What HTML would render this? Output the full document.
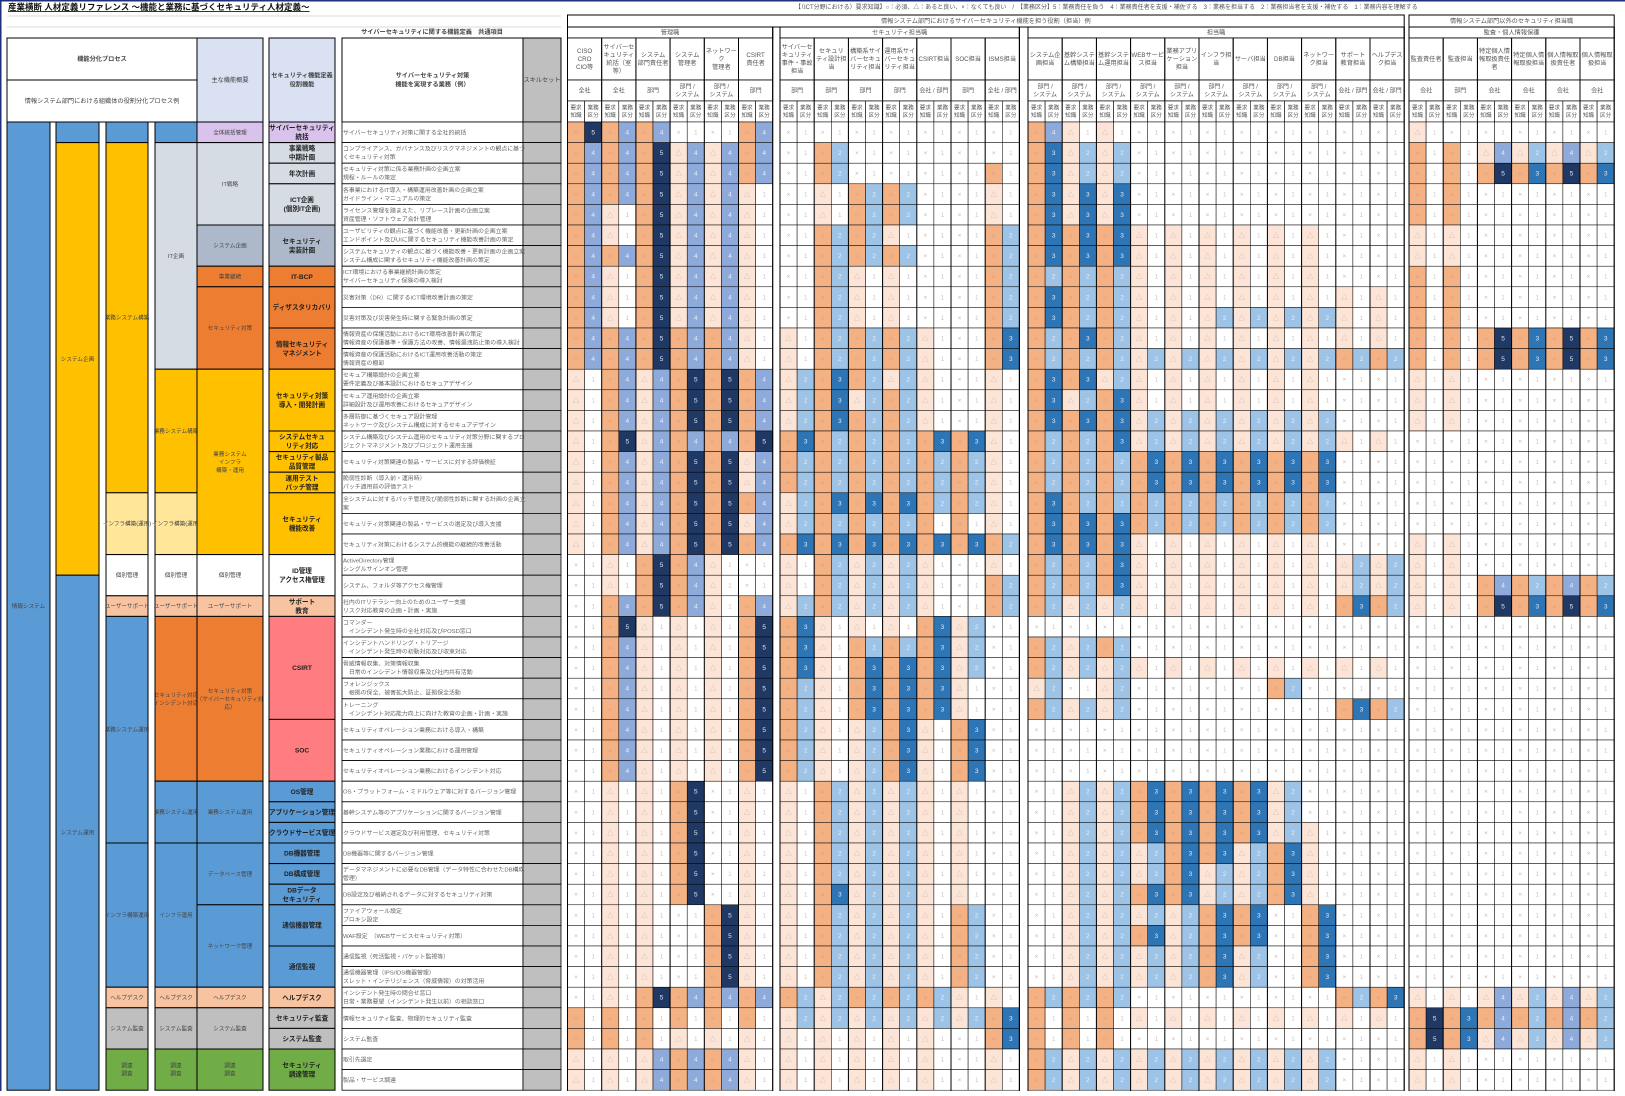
<!DOCTYPE html>
<html><head><meta charset="utf-8">
<style>
html,body{margin:0;padding:0;background:#fff;}
body{width:1625px;height:1091px;overflow:hidden;font-family:"Liberation Sans","Noto Sans CJK JP",sans-serif;}
svg text{font-family:"Liberation Sans","Noto Sans CJK JP",sans-serif;}
</style></head>
<body>
<svg id="sheet" width="1625" height="1091" viewBox="0 0 1625 1091" xmlns="http://www.w3.org/2000/svg">
<rect x="0" y="0" width="1625" height="1091" fill="#fff"/>
<rect x="0" y="0" width="1625" height="1.5" fill="#1f2f7a"/>
<rect x="0" y="0" width="1.5" height="1091" fill="#1f2f7a"/>
<text x="8" y="10" font-size="8.5" font-weight="bold" text-decoration="underline" fill="#111">産業横断 人材定義リファレンス ～機能と業務に基づくセキュリティ人材定義～</text>
<text x="795" y="9" font-size="6" fill="#555">【（ICT分野における）要求知識】○：必須、△：あると良い、×：なくても良い　/　【業務区分】5：業務責任を負う　4：業務責任者を支援・補佐する　3：業務を担当する　2：業務担当者を支援・補佐する　1：業務内容を理解する</text>
<g id="left"></g>
<g id="grid"></g>
</svg>
<script>
// ===== chart data =====
const roleNames = [
 "CISO|CRO|CIO等","サイバーセ|キュリティ|統括（室|等）","システム|部門責任者","システム|管理者","ネットワー|ク|管理者","CSIRT|責任者",
 "サイバーセ|キュリティ|事件・事故|担当","セキュリ|ティ設計担|当","構築系サイ|バーセキュ|リティ担当","運用系サイ|バーセキュ|リティ担当","CSIRT担当","SOC担当","ISMS担当",
 "システム企|画担当","基幹システ|ム構築担当","基幹システ|ム運用担当","WEBサービ|ス担当","業務アプリ|ケーション|担当","インフラ担|当","サーバ担当","DB担当","ネットワー|ク担当","サポート|教育担当","ヘルプデス|ク担当",
 "監査責任者","監査担当","特定個人情|報取扱責任|者","特定個人情|報取扱担当","個人情報取|扱責任者","個人情報取|扱担当"
];
const roleScopes = [
 "全社","全社","部門","部門 /|システム","部門 /|システム","部門",
 "部門","部門","部門","部門","会社 / 部門","部門","全社 / 部門",
 "部門 /|システム","部門 /|システム","部門 /|システム","部門 /|システム","部門 /|システム","部門 /|システム","部門 /|システム","部門 /|システム","部門 /|システム","会社 / 部門","会社 / 部門",
 "会社","部門","会社","会社","会社","会社"
];
const groupNames = ["管理職","セキュリティ担当職","担当職","監査・個人情報保護"];
const groupSizes = [6,7,11,6];
// each row: 30 tokens "<knowledge><level>" knowledge: o=○ t=△ x=×
const rowValues = [
"o5 o4 o4 x1 x1 o4 x1 x1 x1 x1 x1 x1 x1 o4 t1 t1 x1 x1 x1 x1 x1 x1 x1 x1 t1 x1 x1 x1 x1 x1",
"o4 o4 o5 t4 t4 o4 x1 o2 x1 x1 x1 x1 x1 o3 t2 t2 x1 x1 x1 x1 x1 x1 x1 x1 o1 o1 t4 t2 t4 t2",
"o4 o4 o5 t4 t4 o4 x1 o2 x1 x1 x1 x1 o1 o3 t2 t2 x1 x1 x1 x1 x1 x1 x1 x1 o1 o1 o5 o3 o5 o3",
"o4 o4 o5 t4 t4 t1 x1 t1 o2 o2 x1 x1 t1 o3 t3 t3 x1 x1 x1 x1 x1 x1 x1 x1 o1 o1 x1 x1 x1 x1",
"o4 t1 o5 t4 t4 t1 x1 t1 o2 o2 x1 x1 t1 o3 t3 t3 x1 x1 x1 x1 x1 x1 x1 x1 o1 o1 x1 x1 x1 x1",
"o4 t1 o5 t4 t4 t1 x1 o2 o2 t1 x1 x1 o2 o3 o3 o3 t1 t1 t1 t1 t1 t1 x1 x1 t1 t1 x1 x1 x1 x1",
"o4 o4 o5 t4 t4 t1 x1 o2 o2 o2 x1 x1 o2 o3 o3 o3 t1 t1 t1 t1 t1 t1 x1 x1 t1 t1 x1 x1 x1 x1",
"o4 t1 o5 t4 t4 t1 x1 o2 t1 t1 x1 x1 o2 o2 o2 o2 t1 t1 t1 t1 t1 t1 x1 x1 o1 o1 x1 x1 x1 x1",
"o4 t1 o5 t4 t4 t1 x1 o2 t1 t1 x1 x1 o2 o3 o2 o2 t1 t1 t1 t1 t1 t1 t1 t1 o1 o1 x1 x1 x1 x1",
"o4 t1 o5 t4 t4 t1 x1 o2 t1 t1 x1 x1 o2 o3 o2 o2 t1 t1 t2 t2 t2 t2 t1 t1 o1 o1 x1 x1 x1 x1",
"o4 o4 o5 o4 o4 t1 t1 o2 o2 o2 t1 x1 o3 o2 o3 o2 t1 t1 t1 t1 t1 t1 t1 t1 o1 o1 o5 o3 o5 o3",
"o4 o4 o5 o4 o4 t1 t1 o2 o2 o2 t1 x1 o3 o2 o2 o2 t2 t2 t2 t2 t2 t2 o2 o2 o1 o1 o5 o3 o5 o3",
"t1 o4 t4 o5 o5 o4 t2 o3 o2 t2 t1 x1 t1 o3 o3 t2 t1 t1 t1 t1 t1 t1 x1 x1 t1 t1 x1 x1 x1 x1",
"t1 o4 t4 o5 o5 o4 t2 o3 t2 o2 t1 x1 t1 o3 t2 o3 t1 t1 t1 t1 t1 t1 x1 x1 t1 t1 x1 x1 x1 x1",
"t1 o4 t4 o5 o5 o4 t2 o3 o2 o2 t1 x1 t1 o3 o3 o3 t2 t2 t2 t2 t2 t2 x1 x1 t1 t1 x1 x1 x1 x1",
"t1 o5 t4 o4 o4 o5 o3 o2 o2 o2 o3 o3 t1 o2 o2 o3 t2 t2 t2 t2 t2 t2 t1 t1 x1 x1 x1 x1 x1 x1",
"t1 o4 t4 o5 o5 t4 o2 o2 o2 o2 o2 o2 t1 o2 o2 o2 o3 o3 o3 o3 o3 o3 x1 x1 x1 x1 x1 x1 x1 x1",
"t1 o4 t4 o5 o5 t4 o2 o2 o2 o2 o2 o2 t1 o2 o2 o2 o3 o3 o3 o3 o3 o3 x1 x1 x1 x1 x1 x1 x1 x1",
"t1 o4 t4 o5 o5 o4 t2 o3 o3 o3 o2 o2 t1 o3 o2 o2 o2 o2 o2 o2 o2 o2 x1 x1 x1 x1 x1 x1 x1 x1",
"t1 o4 t4 o5 o5 t4 t2 o2 o2 o2 o1 o1 t1 o3 o3 o3 o2 o2 o2 o2 o2 o2 x1 x1 x1 x1 x1 x1 x1 x1",
"t1 o4 t4 o5 o5 o4 o3 o3 o3 o3 o3 o3 o2 o3 o3 o3 t1 t1 t1 t1 t1 t1 x1 x1 t1 t1 x1 x1 x1 x1",
"x1 t1 o5 o4 t1 x1 t1 o2 t2 t2 t1 x1 t1 o2 o2 o3 t1 t1 t1 t1 t1 t1 t2 t2 t1 t1 x1 x1 x1 x1",
"x1 t1 o5 o4 t1 x1 t1 o2 t2 t2 t1 x1 o2 o2 o2 o3 t1 t1 t1 t1 t1 t1 t2 t2 t1 t1 o4 o2 o4 o2",
"x1 o4 o5 o4 t1 o4 t2 o2 t2 t2 t1 x1 o2 o2 t2 t2 t1 t1 t1 t1 t1 t1 o3 o2 t1 t1 o5 o3 o5 o3",
"x1 o5 t1 t1 t1 o5 o3 t1 t1 t1 o3 t2 x1 x1 x1 x1 x1 x1 x1 x1 x1 x1 x1 x1 x1 x1 x1 x1 x1 x1",
"x1 o4 t1 t1 t1 o5 o3 t1 o2 o2 o3 t2 x1 o2 t2 o2 x1 x1 x1 x1 x1 x1 x1 x1 x1 x1 x1 x1 x1 x1",
"x1 o4 t1 t1 t1 o5 o3 t1 o3 o3 o3 t2 x1 o2 t2 t2 t1 t1 t1 t1 t1 t1 t1 t1 x1 x1 x1 x1 x1 x1",
"x1 o4 t1 t1 t1 o5 o2 t1 o3 o3 o3 t1 x1 t2 x1 t2 x1 x1 x1 x1 o2 x1 x1 x1 x1 x1 x1 x1 x1 x1",
"x1 o4 t1 t1 t1 o5 o2 t1 o3 o3 o3 t1 x1 o2 t2 t2 x1 x1 x1 x1 x1 x1 o3 o2 x1 x1 x1 x1 x1 x1",
"x1 o4 t1 t1 t1 o5 o2 t1 t2 o3 t1 o3 x1 x1 x1 x1 x1 x1 x1 x1 x1 x1 x1 x1 x1 x1 x1 x1 x1 x1",
"x1 o4 t1 t1 t1 o5 o2 t1 t2 o3 t1 o3 x1 x1 x1 x1 x1 x1 x1 x1 x1 x1 x1 x1 x1 x1 x1 x1 x1 x1",
"x1 o4 t1 t1 t1 o5 o2 t1 t2 o3 t1 o3 x1 x1 x1 x1 x1 x1 x1 x1 x1 x1 x1 x1 x1 x1 x1 x1 x1 x1",
"x1 t1 t1 o5 x1 t1 t1 o2 t2 t2 t1 t1 x1 x1 t2 t2 o3 o3 o3 o3 t2 x1 x1 x1 x1 x1 x1 x1 x1 x1",
"x1 t1 t1 o5 x1 t1 t1 o2 t2 t2 t1 t1 x1 x1 t2 t2 o3 o3 o3 o3 t2 x1 x1 x1 x1 x1 x1 x1 x1 x1",
"x1 t1 t1 o5 x1 t1 t1 o2 t2 t2 t1 t1 x1 x1 t2 t2 o3 o3 o3 o3 t2 t1 x1 x1 x1 x1 x1 x1 x1 x1",
"x1 t1 t1 o5 x1 t1 t1 o2 t2 t2 t1 t1 x1 x1 t2 t2 t2 o3 o3 t2 o3 t1 x1 x1 x1 x1 x1 x1 x1 x1",
"x1 t1 t1 o5 x1 t1 t1 o2 t2 t2 t1 t1 x1 x1 t2 t2 t2 o3 t2 t2 o3 t1 x1 x1 x1 x1 x1 x1 x1 x1",
"x1 t1 t1 o5 x1 t1 t1 o3 t2 t2 t1 t1 x1 x1 t2 t2 o3 o3 t2 t2 o3 t1 x1 x1 x1 x1 x1 x1 x1 x1",
"x1 t1 t1 x1 o5 t1 t1 o2 t2 t2 t1 o2 x1 x1 t2 t2 t2 t2 o3 o3 x1 o3 x1 x1 x1 x1 x1 x1 x1 x1",
"x1 t1 t1 x1 o5 t1 t1 o2 t2 t2 t1 o2 x1 x1 t2 t2 o3 t2 o3 o3 x1 o3 x1 x1 x1 x1 x1 x1 x1 x1",
"x1 t1 t1 x1 o5 t1 t1 o2 t2 t2 t1 o2 x1 x1 t2 t2 t2 t2 o3 t2 x1 o3 x1 x1 x1 x1 x1 x1 x1 x1",
"x1 t1 t1 x1 o5 t1 t1 o2 t2 t2 t1 o2 x1 x1 t2 t2 t2 t2 o3 t2 x1 o3 x1 x1 x1 x1 x1 x1 x1 x1",
"x1 t1 o5 o4 o4 o4 o2 t2 o2 o2 o2 t1 t1 o2 o2 o2 x1 x1 x1 x1 x1 x1 o2 o3 t1 t1 t4 t2 t4 t2",
"o1 o1 o1 o1 o1 o1 t2 t2 t2 t2 t2 t2 o3 o1 o1 o1 t1 t1 t1 t1 t1 t1 t1 t1 o5 o3 o4 o2 o4 o2",
"o1 o1 o1 t1 t1 t1 t1 t1 t1 t1 t1 x1 o3 o1 o1 o1 x1 x1 x1 x1 x1 x1 x1 x1 o5 o3 t4 t2 t4 t2",
"t1 t1 t4 o4 o4 t1 t1 t1 t1 t1 t1 x1 t1 o2 t2 t2 t2 t2 t2 t2 t2 t2 x1 x1 t1 t1 x1 x1 x1 x1",
"t1 t1 t4 o4 o4 t1 t1 t1 t1 t1 t1 x1 t1 o2 t2 t2 t2 t2 t2 t2 t2 t2 x1 x1 t1 t1 x1 x1 x1 x1"
];
const rowTexts = [
"サイバーセキュリティ対策に関する全社的統括",
"コンプライアンス、ガバナンス及びリスクマネジメントの観点に基づ|くセキュリティ対策",
"セキュリティ対策に係る業務計画の企画立案|規程・ルールの策定",
"各事業におけるIT導入・構築運用改善計画の企画立案|ガイドライン・マニュアルの策定",
"ライセンス管理を踏まえた、リプレース計画の企画立案|資産管理・ソフトウェア会計管理",
"ユーザビリティの観点に基づく機能改善・更新計画の企画立案|エンドポイント及びUIに関するセキュリティ機能改善計画の策定",
"システムセキュリティの観点に基づく機能改善・更新計画の企画立案|システム構成に関するセキュリティ機能改善計画の策定",
"ICT環境における事業継続計画の策定|サイバーセキュリティ保険の導入検討",
"災害対策（DR）に関するICT環境改善計画の策定",
"災害対策及び災害発生時に関する緊急計画の策定",
"情報資産の保護活動におけるICT環境改善計画の策定|情報資産の保護基準・保護方法の改善、情報漏洩防止策の導入検討",
"情報資産の保護活動におけるICT運用改善活動の策定|情報資産の棚卸",
"セキュア構築設計の企画立案|要件定義及び基本設計におけるセキュアデザイン",
"セキュア運用設計の企画立案|詳細設計及び運用改善におけるセキュアデザイン",
"多層防御に基づくセキュア設計管理|ネットワーク及びシステム構成に対するセキュアデザイン",
"システム構築及びシステム運用のセキュリティ対策分野に関するプロ|ジェクトマネジメント及びプロジェクト運用支援",
"セキュリティ対策関連の製品・サービスに対する評価検証",
"脆弱性診断（導入前・運用時）|パッチ適用前の評価テスト",
"全システムに対するパッチ管理及び脆弱性診断に関する計画の企画立|案",
"セキュリティ対策関連の製品・サービスの選定及び導入支援",
"セキュリティ対策におけるシステム的機能の継続的改善活動",
"ActiveDirectory管理|シングルサインオン管理",
"システム、フォルダ等アクセス権管理",
"社内のITリテラシー向上のためのユーザー支援|リスク対応教育の企画・計画・実施",
"コマンダー|　インシデント発生時の全社対応及びPOSD窓口",
"インシデントハンドリング・トリアージ|　インシデント発生時の初動対応及び収束対応",
"脅威情報収集、対策情報収集|　日常のインシデント情報収集及び社内共有活動",
"フォレンジックス|　根拠の保全、被害拡大防止、証拠保全活動",
"トレーニング|　インシデント対応能力向上に向けた教育の企画・計画・実施",
"セキュリティオペレーション業務における導入・構築",
"セキュリティオペレーション業務における運用管理",
"セキュリティオペレーション業務におけるインシデント対応",
"OS・プラットフォーム・ミドルウェア等に対するバージョン管理",
"基幹システム等のアプリケーションに関するバージョン管理",
"クラウドサービス選定及び利用管理、セキュリティ対策",
"DB機器等に関するバージョン管理",
"データマネジメントに必要なDB管理（データ特性に合わせたDB構成|管理）",
"DB設定及び格納されるデータに対するセキュリティ対策",
"ファイアウォール設定|プロキシ設定",
"WAF設定　（WEBサービスセキュリティ対策）",
"通信監視（死活監視・パケット監視等）",
"通信機器管理（IPS/IDS機器管理）|スレット・インテリジェンス（脅威情報）の対策活用",
"インシデント発生時の問合せ窓口|日常・業務要望（インシデント発生以前）の相談窓口",
"情報セキュリティ監査、物理的セキュリティ監査",
"システム監査",
"取引先選定",
"製品・サービス調達"
];

// ===== layout & styles =====
const NS="http://www.w3.org/2000/svg";
const ROW0=122, RH=20.6, PW=34.2;
const groupStart=[567.5,780,1028,1409];
const rowY = i => ROW0 + RH*i;
const kColor = {o:"#f4b183", t:"#fce4d6", x:"#ffffff"};
const kSym = {o:"○", t:"△", x:"×"};
const lColor = {"5":"#203864","4":"#8eaadb","3":"#2e75b6","2":"#9dc3e6","1":"#ffffff"};
const FONT = '"Liberation Sans","Noto Sans CJK JP",sans-serif';

function mk(tag, attrs, parent){
  const e=document.createElementNS(NS,tag);
  for(const k in attrs) e.setAttribute(k,attrs[k]);
  parent.appendChild(e); return e;
}
function multiText(parent, lines, cx, cy, size, fill, weight, anchor, lh){
  const n=lines.length; lh=lh||size*1.25;
  const t=mk("text",{x:cx,y:cy-(n-1)*lh/2+size*0.35,"font-size":size,fill:fill,"text-anchor":anchor||"middle","font-weight":weight||"normal"},parent);
  lines.forEach((ln,i)=>{const s=mk("tspan",{x:cx,dy:i===0?0:lh},t); s.textContent=ln;});
  return t;
}

const grid=document.getElementById("grid");
const left=document.getElementById("left");

// role index -> x
const roleX=[];
groupSizes.forEach((n,g)=>{for(let k=0;k<n;k++) roleX.push(groupStart[g]+k*PW);});

// ===== grid header =====
const hdr=[["情報システム部門におけるサイバーセキュリティ機能を担う役割（担当）例",groupStart[0],groupStart[2]+11*PW],["情報システム部門以外のセキュリティ担当職",groupStart[3],groupStart[3]+6*PW]];
hdr.forEach((h,i)=>{
  const r=mk("rect",{x:h[1],y:15,width:h[2]-h[1],height:12,fill:"#fff",stroke:"#000","stroke-width":1},grid);
  
  
  const t=multiText(grid,[h[0]],(h[1]+h[2])/2,21,6.2,"#555");
  
  
});
groupNames.forEach((gname,g)=>{
  const x=groupStart[g], w=groupSizes[g]*PW;
  const r=mk("rect",{x:x,y:27,width:w,height:11,fill:"#fff",stroke:"#000","stroke-width":1},grid);
  
  
  const t=multiText(grid,[gname],x+w/2,32.5,6.2,"#555");
  
  
});
roleNames.forEach((nm,j)=>{
  const x=roleX[j];
  const r=mk("rect",{x:x,y:38,width:PW,height:42,fill:"#fff",stroke:"#000","stroke-width":0.8},grid);
  
  
  const t=multiText(grid,nm.split("|"),x+PW/2,59,6.2,"#555","normal","middle",8);
  
  
  const r2=mk("rect",{x:x,y:80,width:PW,height:21,fill:"#fff",stroke:"#000","stroke-width":0.8},grid);
  
  
  const t2=multiText(grid,roleScopes[j].split("|"),x+PW/2,90.5,6,"#555","normal","middle",8);
  
  
  ["要求|知識","業務|区分"].forEach((lab,s)=>{
    const r3=mk("rect",{x:x+s*PW/2,y:101,width:PW/2,height:21,fill:"#fff",stroke:"#000","stroke-width":0.6},grid);
    
    
    const t3=multiText(grid,lab.split("|"),x+s*PW/2+PW/4,111.5,5.6,"#555","normal","middle",7.5);
    
    
  });
});

// ===== grid cells =====
rowValues.forEach((rowStr,i)=>{
  const toks=rowStr.split(" ");
  const y=rowY(i);
  toks.forEach((tk,j)=>{
    const k=tk[0], lv=tk[1], x=roleX[j];
    const c1=mk("rect",{x:x,y:y,width:PW/2,height:RH,fill:kColor[k],stroke:"#000","stroke-width":0.5},grid);
    
    
    const c2=mk("rect",{x:x+PW/2,y:y,width:PW/2,height:RH,fill:lColor[lv],stroke:"#000","stroke-width":0.5},grid);
    
    
    const s1=mk("text",{x:x+PW/4,y:y+RH/2+2.2,"font-size":6.5,fill:k==="o"?"#c98a66":"#c8b3a8","text-anchor":"middle"},grid);
    s1.textContent=kSym[k];
    
    
    const dark=(lv==="5"||lv==="3");
    const s2=mk("text",{x:x+3*PW/4,y:y+RH/2+2.2,"font-size":6.5,fill:dark?"#dfe7f5":(lv==="1"?"#c8c8c8":"#e8eef8"),"text-anchor":"middle"},grid);
    s2.textContent=lv;
    
    
  });
});
// pair and group borders
roleX.forEach(x=>{
  const l=mk("line",{x1:x,y1:38,x2:x,y2:1091,stroke:"#000","stroke-width":1},grid);
  
  
});
groupSizes.forEach((n,g)=>{
  const x=groupStart[g]+n*PW;
  const l=mk("line",{x1:x,y1:27,x2:x,y2:1091,stroke:"#000","stroke-width":1.2},grid);
  
  
});

// ===== left definition columns =====
const cols={A:[7,50],B:[56,99],C:[106,148],D:[155,197],E:[197,263],F:[269,335]};
const BL="#5b9bd5",YE="#ffc000",LY="#ffe699",GR="#d6dce4",GB="#adb9ca",OR="#ed7d31",PE="#f7c3a0",PK="#ff7c80",GY="#bfbfbf",GN="#70ad47",LV="#d9c2ec",WH="#ffffff";
const cells=[
 ["A",0,46,BL,"情報システム"],
 ["B",0,0,BL,""],["B",1,21,YE,"システム企画"],["B",22,46,BL,"システム運用"],
 ["C",0,0,BL,""],["C",1,17,YE,"業務システム構築"],["C",18,20,LY,"インフラ構築(運用)"],["C",21,22,WH,"個別管理"],["C",23,23,PE,"ユーザーサポート"],["C",24,34,BL,"業務システム運用"],["C",35,41,BL,"インフラ構築運用"],["C",42,42,PE,"ヘルプデスク"],["C",43,44,GY,"システム監査"],["C",45,46,GN,"調達|調査"],
 ["D",0,0,BL,""],["D",1,11,GR,"IT企画"],["D",12,17,YE,"業務システム構築"],["D",18,20,LY,"インフラ構築(運用)"],["D",21,22,WH,"個別管理"],["D",23,23,PE,"ユーザーサポート"],["D",24,31,OR,"セキュリティ対応|インシデント対応"],["D",32,34,BL,"業務システム運用"],["D",35,41,BL,"インフラ運用"],["D",42,42,PE,"ヘルプデスク"],["D",43,44,GY,"システム監査"],["D",45,46,GN,"調達|調査"],
 ["E",0,0,LV,"全体統括管理"],["E",1,4,GR,"IT戦略"],["E",5,6,GB,"システム企画"],["E",7,7,OR,"事業継続"],["E",8,11,OR,"セキュリティ対策"],["E",12,20,YE,"業務システム|インフラ|構築・運用"],["E",21,22,WH,"個別管理"],["E",23,23,PE,"ユーザーサポート"],["E",24,31,OR,"セキュリティ対策|（サイバーセキュリティ対|応）"],["E",32,34,BL,"業務システム運用"],["E",35,37,BL,"データベース管理"],["E",38,41,BL,"ネットワーク管理"],["E",42,42,PE,"ヘルプデスク"],["E",43,44,GY,"システム監査"],["E",45,46,GN,"調達|調査"],
 ["F",0,0,LV,"サイバーセキュリティ|統括"],["F",1,1,GR,"事業戦略|中期計画"],["F",2,2,GR,"年次計画"],["F",3,4,GR,"ICT企画|(個別IT企画)"],["F",5,6,GB,"セキュリティ|実装計画"],["F",7,7,OR,"IT-BCP"],["F",8,9,OR,"ディザスタリカバリ"],["F",10,11,OR,"情報セキュリティ|マネジメント"],["F",12,14,YE,"セキュリティ対策|導入・開発計画"],["F",15,15,YE,"システムセキュ|リティ対応"],["F",16,16,YE,"セキュリティ製品|品質管理"],["F",17,17,YE,"運用テスト|パッチ管理"],["F",18,20,YE,"セキュリティ|機能改善"],["F",21,22,WH,"ID管理|アクセス権管理"],["F",23,23,PE,"サポート|教育"],["F",24,28,PK,"CSIRT"],["F",29,31,PK,"SOC"],["F",32,32,BL,"OS管理"],["F",33,33,BL,"アプリケーション管理"],["F",34,34,BL,"クラウドサービス管理"],["F",35,35,BL,"DB機器管理"],["F",36,36,BL,"DB構成管理"],["F",37,37,BL,"DBデータ|セキュリティ"],["F",38,39,BL,"通信機器管理"],["F",40,41,BL,"通信監視"],["F",42,42,PE,"ヘルプデスク"],["F",43,43,GY,"セキュリティ監査"],["F",44,44,GY,"システム監査"],["F",45,46,GN,"セキュリティ|調達管理"]
];
// header block
[[7,38,190,42,WH,"機能分化プロセス",true],[7,80,190,42,WH,"情報システム部門における組織体の役割分化プロセス例",false],[197,38,66,84,"#d9e1f2","主な機能概要",false],[269,38,66,84,"#d9e1f2","セキュリティ機能定義|役割機能",true],[342,38,181,84,WH,"サイバーセキュリティ対策|機能を実現する業務（例）",true],[523,38,38,84,GY,"スキルセット",false]].forEach(h=>{
  const r=mk("rect",{x:h[0],y:h[1],width:h[2],height:h[3],fill:h[4],stroke:"#000","stroke-width":1},left);
  
  
  const t=multiText(left,h[5].split("|"),h[0]+h[2]/2,h[1]+h[3]/2,6.2,"#444",h[6]?"bold":"normal","middle",9);
  
  
});
const ct=multiText(left,["サイバーセキュリティに関する機能定義　共通項目"],432,32,6.2,"#444","bold");


// faint spreadsheet lines in top area
[16,27].forEach(y=>{
  const l=mk("line",{x1:7,y1:y,x2:561,y2:y,stroke:"#d8d8d8","stroke-width":1},left);
  
  
});
cells.forEach(c=>{
  const [x0,x1]=cols[c[0]];
  const y0=rowY(c[1]), y1=rowY(c[2]+1);
  const r=mk("rect",{x:x0,y:y0,width:x1-x0,height:Math.min(y1,1091)-y0,fill:c[3],stroke:"#000","stroke-width":1},left);
  
  
  if(c[4]){
    const isF=c[0]==="F";
    const t=multiText(left,c[4].split("|"),(x0+x1)/2,(y0+Math.min(y1,1091))/2,isF?6.6:5.6,isF?"#222":"#444",isF?"bold":"normal","middle",isF?9:8);
    
    
  }
});
// text column and skill column
rowTexts.forEach((tx,i)=>{
  const y=rowY(i);
  const r=mk("rect",{x:342,y:y,width:181,height:RH,fill:"#fff",stroke:"#000","stroke-width":0.8},left);
  
  
  const r2=mk("rect",{x:523,y:y,width:38,height:RH,fill:GY,stroke:"#000","stroke-width":0.8},left);
  
  
  const lines=tx.split("|");
  const t=mk("text",{x:343,y:lines.length>1?y+8:y+RH/2+2.2,"font-size":5.9,fill:"#666"},left);
  lines.forEach((ln,k)=>{const s=mk("tspan",{x:343,dy:k===0?0:8.5},t); s.textContent=ln;});
  
  
});
</script>
</body></html>
